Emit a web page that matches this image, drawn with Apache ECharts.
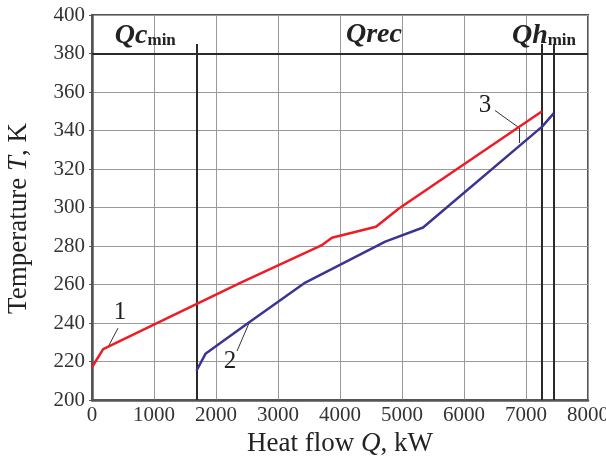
<!DOCTYPE html>
<html>
<head>
<meta charset="utf-8">
<script src="https://cdn.jsdelivr.net/npm/echarts@6/dist/echarts.min.js"></script>
<style>html,body{margin:0;padding:0;background:#fff}#c{width:606px;height:466px}</style>
</head>
<body>
<div id="c"></div>
<script>
// ---- data ----
const redQ  = [0, 180, 2400, 3700, 3870, 4580, 4950, 7260];
const redT  = [217, 226.4, 261, 280.3, 284.3, 290, 299.5, 350];
const blueQ = [1685, 1830, 2530, 3440, 4730, 5340, 7260, 7450];
const blueT = [215.2, 224, 240.3, 261, 282.3, 289.6, 342, 349];
const qcMin = 1685;
const qhMin = [7260, 7450];
const headerT = 380;      // header separator line
const headerTop = 385;    // top of vertical boundary lines
const xMin = 0, xMax = 8000, xStep = 1000;
const yMin = 200, yMax = 400, yStep = 20;
// header labels [Q, T, text]
const headerLabels = [
  [860, 389.6, '{q|Qc}{s|min}'],
  [4548, 390, '{q|Qrec}'],
  [7290, 389.6, '{q|Qh}{s|min}']
];
// curve number labels [Q, T, text]
const numLabels = [[452, 245.6, '1'], [2226, 220.2, '2'], [6339, 352.8, '3']];
// leader lines [[Q1,T1],[Q2,T2]]
const leaders = [
  [[258, 227.5], [419, 237.3]],
  [[2339, 225.4], [2532, 239.9]],
  [[6500, 350.4], [6892, 341.3]],
  [[6892, 341.3], [6892, 333.5]]
];

const serif = '"Liberation Serif", "DejaVu Serif", serif';
const zip = (a, b) => a.map((v, i) => [v, b[i]]);

const boundaryLines = [
  [{coord: [xMin, headerT]}, {coord: [xMax, headerT]}],
  [{coord: [qcMin, yMin]}, {coord: [qcMin, headerTop]}]
].concat(qhMin.map(q => [{coord: [q, yMin]}, {coord: [q, headerTop]}]));

const chart = echarts.init(document.getElementById('c'), null, {renderer: 'canvas'});
chart.setOption({
  animation: false,
  backgroundColor: '#fff',
  grid: {left: 92, right: 18, top: 15, bottom: 66, show: true, borderColor: '#555', borderWidth: 2,
    containLabel: false, outerBoundsMode: 'none'},
  xAxis: {
    type: 'value', min: xMin, max: xMax, interval: xStep,
    name: 'Heat flow {i|Q}, kW', nameLocation: 'middle', nameGap: 29,
    nameTextStyle: {fontFamily: serif, fontSize: 27, color: '#222',
      rich: {i: {fontFamily: serif, fontSize: 27, fontStyle: 'italic', color: '#222'}}},
    axisLine: {show: true, lineStyle: {color: '#555', width: 2.5}},
    axisTick: {show: false},
    axisLabel: {fontFamily: serif, fontSize: 21, color: '#333', margin: 5,
      formatter: v => String(v)},
    splitLine: {show: true, lineStyle: {color: '#999', width: 1}}
  },
  yAxis: {
    type: 'value', min: yMin, max: yMax, interval: yStep,
    name: 'Temperature {i|T}, K', nameLocation: 'middle', nameGap: 60, nameRotate: 90,
    nameTextStyle: {fontFamily: serif, fontSize: 27, color: '#222', padding: [0, 22, 0, 0],
      rich: {i: {fontFamily: serif, fontSize: 27, fontStyle: 'italic', color: '#222'}}},
    axisLine: {show: true, lineStyle: {color: '#555', width: 2.5}},
    axisTick: {show: true, length: 3, lineStyle: {color: '#555'}},
    axisLabel: {fontFamily: serif, fontSize: 21, color: '#333', margin: 7,
      formatter: v => String(v)},
    splitLine: {show: true, lineStyle: {color: '#999', width: 1}}
  },
  series: [
    {
      type: 'line', data: zip(redQ, redT), symbol: 'none', z: 5,
      lineStyle: {color: '#ee1c25', width: 2.5}
    },
    {
      type: 'line', data: zip(blueQ, blueT), symbol: 'none', z: 5,
      lineStyle: {color: '#3a3593', width: 2.5}
    },
    {
      type: 'line', data: [], z: 4,
      markLine: {
        silent: true, symbol: 'none', animation: false,
        label: {show: false},
        lineStyle: {color: '#2a2a2a', width: 2, type: 'solid'},
        data: boundaryLines
      }
    },
    {
      type: 'line', data: [], z: 6,
      markLine: {
        silent: true, symbol: 'none', animation: false,
        label: {show: false},
        lineStyle: {color: '#333', width: 1, type: 'solid'},
        data: leaders.map(l => [{coord: l[0]}, {coord: l[1]}])
      },
      markPoint: {
        silent: true, animation: false, symbol: 'circle', symbolSize: 0,
        data: numLabels.map(p => ({coord: [p[0], p[1]], value: p[2],
          label: {show: true, position: 'inside', formatter: p[2],
            fontFamily: serif, fontSize: 25, color: '#222'}}))
          .concat(headerLabels.map(p => ({coord: [p[0], p[1]], value: 0,
            label: {show: true, position: 'inside', formatter: p[2],
              rich: {
                q: {fontFamily: serif, fontSize: 28, fontWeight: 'bold', fontStyle: 'italic', color: '#222', lineHeight: 30, verticalAlign: 'bottom'},
                s: {fontFamily: serif, fontSize: 17, fontWeight: 'bold', color: '#222', lineHeight: 21, verticalAlign: 'bottom', padding: [0, 0, 1, 0]}
              }}})))
      }
    }
  ]
});
</script>
</body>
</html>
